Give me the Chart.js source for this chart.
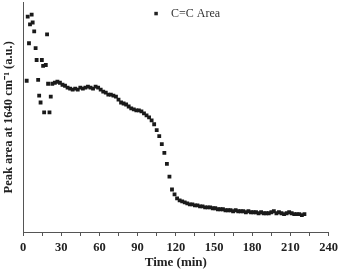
<!DOCTYPE html>
<html>
<head>
<meta charset="utf-8">
<script src="https://cdn.jsdelivr.net/npm/chart.js@4/dist/chart.umd.min.js"></script>
<style>
html,body{margin:0;padding:0;background:#fff;}
#wrap{width:342px;height:271px;}
</style>
</head>
<body>
<div id="wrap"><canvas id="c" width="342" height="271"></canvas></div>
<script>
const seriesLabel = "C=C Area";
const xTitle = "Time (min)";
const yTitle = "Peak area at 1640 cm\u207B\u00B9 (a.u.)";
const xTickValues = [0, 30, 60, 90, 120, 150, 180, 210, 240];

const timeMin = [2.9, 3.7, 4.7, 5.5, 6.8, 7.6, 8.8, 9.9, 10.7, 11.9, 12.7, 13.8, 14.8, 15.8, 16.6, 17.9, 18.9, 19.7, 20.8, 21.8,
  23, 25, 27, 29, 31, 33, 35, 37, 39, 41, 43, 45, 47, 49, 51, 53, 55, 57, 59, 61,
  63, 65, 67, 69, 71, 73, 75, 77, 79, 81, 83, 85, 87, 89, 91, 93, 95, 97, 99, 101,
  103, 105, 107, 109, 111, 113, 115, 117, 119, 121, 123, 125, 127, 129, 131, 133, 135, 137, 139, 141,
  143, 145, 147, 149, 151, 153, 155, 157, 159, 161, 163, 165, 167, 169, 171, 173, 175, 177, 179, 181,
  183, 185, 187, 189, 191, 193, 195, 197, 199, 201, 203, 205, 207, 209, 211, 213, 215, 217, 219, 221];

const peakArea = [153, 218, 191, 210, 220, 212, 203, 186, 174, 154, 138, 131, 174, 168, 121, 169, 200, 150, 121, 137,
  150, 151, 152, 151, 149, 148, 146, 145, 144, 145, 144, 146, 145, 146, 147, 146, 145, 147, 146, 144,
  142, 141, 139, 139, 138, 137, 134, 131, 130, 129, 127, 125, 124, 123, 123, 122, 120, 118, 116, 113,
  109, 103, 97, 89, 80, 69, 56, 43, 38, 34, 32, 31, 30, 29, 28, 28, 27, 27, 26, 26,
  25, 25, 25, 24, 24, 23, 23, 23, 22, 22, 22, 21, 22, 21, 21, 21, 20, 21, 20, 20,
  20, 19, 20, 19, 19, 19, 20, 21, 19, 20, 19, 18, 19, 20, 19, 18, 18, 18, 17, 18];

const points = timeMin.map((t, i) => ({x: t, y: peakArea[i]}));

const axisColor = '#555';
const serif = "'Liberation Serif', 'Times New Roman', serif";

const legendPlugin = {
  id: 'insideLegend',
  afterDraw(chart) {
    const ctx = chart.ctx;
    const xs = chart.scales.x, ys = chart.scales.y;
    const lx = xs.getPixelForValue(104.5);
    const ly = ys.getPixelForValue(221);
    ctx.save();
    ctx.fillStyle = '#222';
    ctx.fillRect(lx - 1.75, ly - 1.75, 3.5, 3.5);
    ctx.font = "12px " + serif;
    ctx.fillStyle = '#333';
    ctx.textBaseline = 'middle';
    ctx.textAlign = 'left';
    ctx.fillText(chart.data.datasets[0].label, lx + 15, ly + 0.5);
    ctx.restore();
  }
};

new Chart(document.getElementById('c'), {
  type: 'scatter',
  data: {
    datasets: [{
      label: seriesLabel,
      data: points,
      pointStyle: 'rect',
      pointRadius: 2.7,
      pointHoverRadius: 2.7,
      backgroundColor: '#1a1a1a',
      borderColor: '#1a1a1a',
      borderWidth: 0,
      showLine: false
    }]
  },
  options: {
    responsive: false,
    animation: false,
    devicePixelRatio: 1,
    layout: {padding: {top: 0, right: 11, left: 0, bottom: 0}},
    plugins: {
      legend: {display: false},
      tooltip: {enabled: false}
    },
    scales: {
      x: {
        type: 'linear',
        min: 0, max: 240,
        afterFit(s) { s.height = 39; },
        afterBuildTicks(s) {
          const t = [];
          for (let v = 0; v <= 240; v += 15) t.push({value: v});
          s.ticks = t;
        },
        ticks: {
          autoSkip: false,
          maxRotation: 0,
          padding: 4,
          color: '#222',
          font: {family: serif, size: 12.5, weight: 'bold'},
          callback: (v) => xTickValues.includes(v) ? String(v) : ''
        },
        grid: {display: true, drawOnChartArea: false, drawTicks: true, tickLength: 4, color: axisColor, tickColor: axisColor},
        border: {display: true, color: axisColor, width: 1},
        title: {display: true, text: xTitle, color: '#222', padding: {top: 0, bottom: 1},
          font: {family: serif, size: 13, weight: 'bold'}}
      },
      y: {
        type: 'linear',
        min: 0, max: 232,
        afterFit(s) { s.width = 23; },
        ticks: {display: false},
        grid: {display: true, drawOnChartArea: false, drawTicks: false, color: axisColor},
        border: {display: true, color: axisColor, width: 1},
        title: {display: true, text: yTitle, color: '#222', padding: {top: 1, bottom: 0},
          font: {family: serif, size: 12.5, weight: 'bold'}}
      }
    }
  },
  plugins: [legendPlugin]
});
</script>
</body>
</html>
